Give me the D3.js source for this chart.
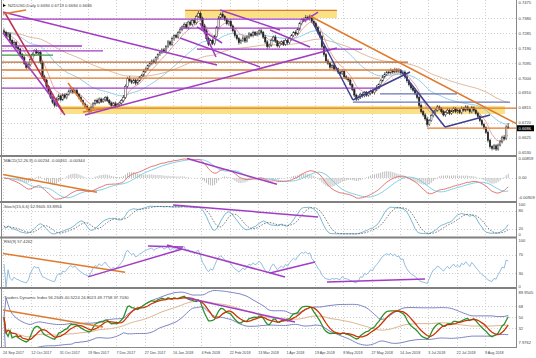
<!DOCTYPE html>
<html><head><meta charset="utf-8">
<script src="https://cdn.jsdelivr.net/npm/d3@7"></script>
<style>
html,body{margin:0;padding:0;background:#fff;}
svg{display:block;font-family:"Liberation Sans",Arial,sans-serif;}
</style></head><body>
<svg id="c" width="536" height="358"></svg>
<script>
// ---------------- DATA ----------------
const chartTitle = "NZDUSD,Daily 0.6694 0.6719 0.6684 0.6686";
const firstOpen = 0.7300;
const closes = [
.7290,.7265,.7280,.7240,.7215,.7225,.7195,.7185,.7150,.7130,
.7095,.7070,.7085,.7120,.7150,.7175,.7160,.7165,.7100,.7010,
.6990,.6950,.6920,.6880,.6850,.6830,.6870,.6890,.6865,.6895,
.6880,.6900,.6920,.6935,.6915,.6925,.6900,.6880,.6860,.6840,
.6825,.6810,.6795,.6815,.6840,.6860,.6850,.6870,.6855,.6865,
.6880,.6860,.6845,.6830,.6840,.6825,.6835,.6845,.6860,.6880,
.6950,.7000,.6985,.6975,.6990,.6970,.6985,.7005,.7020,.7045,
.7060,.7080,.7095,.7110,.7100,.7130,.7150,.7165,.7180,.7170,
.7200,.7230,.7215,.7250,.7270,.7260,.7290,.7310,.7325,.7340,
.7320,.7355,.7340,.7365,.7350,.7390,.7410,.7380,.7330,.7300,
.7250,.7215,.7240,.7220,.7265,.7320,.7380,.7405,.7390,.7370,
.7345,.7360,.7330,.7300,.7270,.7250,.7225,.7240,.7255,.7235,
.7260,.7280,.7270,.7290,.7275,.7285,.7300,.7290,.7260,.7230,
.7200,.7210,.7240,.7260,.7235,.7205,.7220,.7230,.7215,.7240,
.7225,.7250,.7270,.7290,.7280,.7310,.7345,.7370,.7365,.7385,
.7375,.7390,.7360,.7345,.7320,.7290,.7265,.7200,.7150,.7110,
.7095,.7070,.7080,.7055,.7060,.7040,.7030,.7045,.7010,.7000,
.6990,.6960,.6930,.6895,.6870,.6880,.6900,.6890,.6910,.6895,
.6905,.6920,.6910,.6930,.6945,.6960,.6985,.7010,.7025,.7040,
.7035,.7050,.7040,.7055,.7045,.7050,.7035,.7040,.7010,.6985,
.6960,.6940,.6925,.6905,.6880,.6830,.6790,.6770,.6745,.6710,
.6735,.6765,.6790,.6800,.6820,.6810,.6790,.6770,.6785,.6800,
.6780,.6795,.6810,.6790,.6800,.6785,.6810,.6800,.6820,.6805,
.6790,.6815,.6800,.6780,.6760,.6735,.6710,.6690,.6660,.6610,
.6570,.6560,.6575,.6555,.6580,.6600,.6630,.6620,.6694,.6686];
// upper / lower wick lengths in pips
const wickUp = [
15,10,12,8,10,14,9,12,8,10, 12,9,15,10,14,8,12,10,9,11,
13,8,10,12,9,15,11,14,8,10, 12,9,11,13,8,10,14,9,12,8,
10,12,9,15,11,8,13,10,9,12, 8,11,10,9,12,14,8,10,11,15,
12,10,14,9,11,8,12,10,9,13, 10,8,12,9,14,10,8,11,9,12,
10,12,9,14,8,11,10,13,9,12, 14,9,12,10,15,11,16,12,9,13,
11,14,10,12,9,11,13,10,15,9, 12,10,14,9,11,8,12,10,13,9,
10,12,8,11,9,13,10,12,9,14, 11,9,12,10,14,8,11,9,12,10,
9,12,10,8,13,10,11,9,12,14, 10,12,9,14,11,8,12,10,9,11,
13,9,11,10,12,8,10,12,9,11, 10,12,9,11,8,13,10,12,9,11,
12,9,11,10,13,8,10,12,14,9, 11,13,9,12,10,14,9,11,10,12,
9,11,10,12,8,10,12,9,11,14, 10,12,9,11,13,10,8,12,9,11,
12,9,11,10,12,9,13,10,11,9, 10,12,9,11,10,12,9,11,8,12,
10,9,12,11,10,13,9,14,11,25];
const wickDown = [
10,12,9,14,11,8,12,10,13,9, 11,14,10,9,12,10,8,13,11,12,
9,12,14,10,11,13,9,12,10,8, 10,12,9,11,13,8,10,12,9,11,
12,10,14,9,11,10,8,12,10,9, 11,9,12,10,8,13,10,9,12,11,
9,12,10,11,9,13,10,8,12,10, 11,9,10,12,8,10,12,9,11,10,
12,9,11,10,13,8,10,9,12,11, 10,13,9,11,12,10,9,14,12,15,
13,11,14,10,12,9,11,10,12,9, 10,12,9,11,13,10,12,9,11,12,
9,11,10,12,8,10,12,9,11,13, 14,10,11,9,12,10,13,9,11,10,
12,9,11,10,12,9,10,11,9,12, 10,11,12,9,10,13,11,12,14,10,
11,12,9,10,11,12,10,9,13,10, 12,10,11,13,14,9,10,12,9,11,
10,11,9,12,10,9,11,10,12,9, 11,10,12,9,11,10,12,9,11,13,
10,12,9,11,12,14,10,12,11,15, 10,9,11,12,10,9,11,10,12,9,
11,10,12,9,11,10,12,9,11,10, 12,10,11,9,12,10,11,12,10,13,
12,14,10,12,11,9,10,12,9,2];

const dateTickBars = [0,14,28,42,56,70,84,98,112,126,140,154,168,182,196,210,224,238];
const dateTickLabels = ["24 Sep 2017","12 Oct 2017","31 Oct 2017","19 Nov 2017","7 Dec 2017","27 Dec 2017",
 "16 Jan 2018","4 Feb 2018","22 Feb 2018","13 Mar 2018","1 Apr 2018","19 Apr 2018","8 May 2018",
 "27 May 2018","14 Jun 2018","3 Jul 2018","22 Jul 2018","9 Aug 2018"];

const priceTicks = [0.7475,0.7380,0.7285,0.7190,0.7095,0.7000,0.6910,0.6815,0.6720,0.6625,0.6530];
const lastPrice = 0.6686;
const macdTicks = [0.00859,0.00,-0.00909];
const macdTickLabels = ["0.00859","0.00","-0.00909"];
const stochTicks = [100,80,20,0];
const rsiTicks = [100,70,30,0];
const tdiTicks = [89.9505,68,50,32,7.9762];
const tdiTickLabels = ["89.9505","68","50","32","7.9762"];

const macdTitle = "MACD(12,26,9) 0.00234 -0.00461 -0.00344";
const stochTitle = "Stoch(15,6,6) 52.9605 33.8956";
const rsiTitle = "RSI(9) 57.4262";
const tdiTitle = "Traders Dynamic Index 56.2645 40.5224 24.8023 49.7758 37.7030";

// manual objects: [price, fromBar, toBar, kind]
const hLines = [
 [0.7374,-1,151,"purple"],[0.7317,87,146,"purple"],[0.7204,-1,38.5,"purple"],
 [0.7173,-1,48.9,"purple"],[0.7147,-1,24.2,"green"],[0.7185,95.3,176.8,"purple"],
 [0.7103,-1,199.5,"brown"],[0.7053,-1,195.6,"orange"],[0.7002,-1,185.7,"orange"],
 [0.6939,-1,185.7,"purple"],[0.6902,185.7,223.7,"slate"],[0.6851,172.3,249.9,"slate"],
 [0.6813,27.7,256,"orange"],[0.7428,89.4,164.4,"orange"],[0.6687,208.9,256,"orange"]];
// zones: [lowPrice, highPrice, fromBar, toBar]
const zones = [[0.6776,0.6827,27.7,247.4],[0.7380,0.7431,89.4,164.4]];
// trend lines: [bar1, value1, bar2, value2, kind]
const mainTrends = [
 [-0.5,0.7418,105.2,0.7084,"purple"],[-0.5,0.7286,30.1,0.6769,"purple"],
 [0.5,0.7412,29.1,0.6788,"crimson"],[-0.5,0.7406,10.9,0.7431,"orange"],
 [31.6,0.6971,41.5,0.6801,"orange"],[39,0.6788,57.3,0.6826,"orange"],
 [40,0.6769,164.4,0.7191,"purple"],[86.9,0.7254,126.4,0.7072,"purple"],
 [95.3,0.7324,107.7,0.7223,"purple"],[96.8,0.7349,104.7,0.7135,"purple"],
 [106.7,0.7431,136.3,0.7305,"purple"],[131.4,0.7305,151.1,0.7198,"purple"],
 [147.2,0.7355,155.1,0.7418,"purple"],[152.6,0.7349,172.3,0.6864,"navy"],
 [172.3,0.6864,200.5,0.7040,"navy"],[195.6,0.7053,217.8,0.6694,"navy"],
 [217.8,0.6694,240,0.6769,"navy"],[151.1,0.7393,253.3,0.6713,"orange"]];
const macdTrends = [[-0.5,0.00152,45.9,-0.00644,"orange"],[90.4,0.00880,134.8,-0.0029,"purple"]];
const stochTrends = [[83.5,100,155.1,60,"purple"]];
const rsiTrends = [[-0.5,72.8,59.8,32,"orange"],[41.5,22,88,82.6,"purple"],[71.1,89,88.4,87,"purple"],
 [80.5,91.3,138.8,21.7,"purple"],[131.4,30.4,153.6,54.3,"purple"],[159.5,10.9,207.9,17.4,"purple"]];
const tdiTrends = [[-0.5,62.1,48.9,34.2,"orange"],[90.4,81.7,143.7,42.4,"purple"]];

// ---------------- STYLE ----------------
const kindColor = {purple:"#a23cc4",orange:"#e07a2e",brown:"#b86a34",green:"#3c9a3c",slate:"#6d78bd",navy:"#3d3f8f",crimson:"#c0304f"};
const svg = d3.select("#c");
const N = closes.length;
const x = d3.scaleLinear().domain([0,N-1]).range([4,4+(N-1)*2.025]);
const PL = 2, PR = 516;
const panels = {main:[0,156],macd:[157,202],stoch:[203,237],rsi:[238,288],tdi:[289,347]};
const yMain = d3.scaleLinear().domain(d3.extent(priceTicks)).range([153,3]);
const yMacd = d3.scaleLinear().domain(d3.extent(macdTicks)).range([198,159]);
const ySto = d3.scaleLinear().domain(d3.extent(stochTicks)).range([235,205]);
const yRsi = d3.scaleLinear().domain(d3.extent(rsiTicks)).range([287,241]);
const yTdi = d3.scaleLinear().domain(d3.extent(tdiTicks)).range([343,293]);

// ---------------- DERIVED ----------------
const opens = closes.map((c,i)=> i===0 ? firstOpen : closes[i-1]);
const highs = closes.map((c,i)=> Math.max(opens[i],c) + wickUp[i]/1e4);
const lows  = closes.map((c,i)=> Math.min(opens[i],c) - wickDown[i]/1e4);
function ema(a,n){const k=2/(n+1);let p=a[0];return a.map((v,i)=>(p= i===0?v:v*k+p*(1-k)));}
function sma(a,n){return a.map((v,i)=>d3.mean(a.slice(Math.max(0,i-n+1),i+1)));}
function sd(a,n){return a.map((v,i)=>d3.deviation(a.slice(Math.max(0,i-n+1),i+1))||0);}
function rsi(a,n){let ag=0,al=0;return a.map((v,i)=>{if(i===0)return 50;const d=v-a[i-1];
  const g=Math.max(d,0),l=Math.max(-d,0); if(i<=n){ag=(ag*(i-1)+g)/i;al=(al*(i-1)+l)/i;} else {ag=(ag*(n-1)+g)/n;al=(al*(n-1)+l)/n;}
  return al===0?100:100-100/(1+ag/al);});}
const maFast = ema(closes,8), maMid = ema(closes,34), maSlow = ema(closes,89);
const e12=ema(closes,12), e26=ema(closes,26);
const macdLine = e12.map((v,i)=>v-e26[i]);
const macdSig = sma(macdLine,9);
const macdHist = macdLine.map((v,i)=>v-macdSig[i]);
const num = closes.map((c,i)=>{const lo=d3.min(lows.slice(Math.max(0,i-14),i+1));return c-lo;});
const den = closes.map((c,i)=>{const lo=d3.min(lows.slice(Math.max(0,i-14),i+1)),hi=d3.max(highs.slice(Math.max(0,i-14),i+1));return hi-lo;});
const stK = num.map((v,i)=>{const a=d3.sum(num.slice(Math.max(0,i-5),i+1)),b=d3.sum(den.slice(Math.max(0,i-5),i+1));return b?100*a/b:50;});
const stD = sma(stK,6);
const rsi9 = rsi(closes,9);
const r13 = rsi(closes,13);
const tdiGreen = sma(r13,2), tdiRed = sma(r13,7), tdiBase = sma(r13,34), tdiSd = sd(r13,34);
const tdiUp = tdiBase.map((v,i)=>v+1.6185*tdiSd[i]), tdiDn = tdiBase.map((v,i)=>v-1.6185*tdiSd[i]);

// ---------------- DRAW ----------------
const defs = svg.append("defs");
Object.entries(panels).forEach(([k,[t,b]])=>{
  defs.append("clipPath").attr("id","clip-"+k).append("rect").attr("x",PL).attr("y",t).attr("width",PR-PL).attr("height",b-t);
});
function layer(k){return svg.append("g").attr("clip-path","url(#clip-"+k+")");}

// vertical grid
const gGrid = svg.append("g");
dateTickBars.forEach(b=>{
  gGrid.append("line").attr("x1",Math.round(x(b))-0.5).attr("x2",Math.round(x(b))-0.5).attr("y1",0).attr("y2",347)
   .attr("stroke","#c4c4c4").attr("stroke-width",0.8).attr("stroke-dasharray","1,2");
});
function hgrid(vals,sc){vals.forEach(v=>{gGrid.append("line").attr("x1",PL).attr("x2",PR).attr("y1",Math.round(sc(v))+0.5).attr("y2",Math.round(sc(v))+0.5)
  .attr("stroke","#c4c4c4").attr("stroke-width",0.8).attr("stroke-dasharray","1,2");});}
hgrid(priceTicks.slice(1,-1),yMain);
hgrid([0],yMacd); hgrid([80,20],ySto); hgrid([70,30],yRsi); hgrid([68,50,32],yTdi);

// main panel
const gm = layer("main");
zones.forEach(z=>{
  gm.append("rect").attr("x",x(z[2])).attr("width",x(z[3])-x(z[2])).attr("y",yMain(z[1])).attr("height",yMain(z[0])-yMain(z[1]))
   .attr("fill","#f7dc72").attr("opacity",0.85);
});
const lineMain = d3.line().x((d,i)=>x(i)).y(d=>yMain(d));
[[maSlow,"#ddb08e"],[maMid,"#86c9e6"],[maFast,"#e59a9a"]].forEach(([a,c])=>{
  gm.append("path").attr("d",lineMain(a)).attr("fill","none").attr("stroke",c).attr("stroke-width",0.9);
});
closes.forEach((c,i)=>{
  const o=opens[i], cx=x(i);
  gm.append("line").attr("x1",cx).attr("x2",cx).attr("y1",yMain(highs[i])).attr("y2",yMain(lows[i])).attr("stroke","#222").attr("stroke-width",0.7);
  const top=yMain(Math.max(o,c)), bot=yMain(Math.min(o,c));
  gm.append("rect").attr("x",cx-0.75).attr("width",1.5).attr("y",top).attr("height",Math.max(0.6,bot-top))
   .attr("fill", c>=o ? "#fff" : "#222").attr("stroke","#222").attr("stroke-width",0.45);
});
function drawH(g,arr,sc,w){arr.forEach(h=>{g.append("line").attr("x1",x(h[1])).attr("x2",x(h[2])).attr("y1",sc(h[0])).attr("y2",sc(h[0]))
  .attr("stroke",kindColor[h[3]]).attr("stroke-width",w);});}
function drawT(g,arr,sc,w){arr.forEach(t=>{g.append("line").attr("x1",x(t[0])).attr("y1",sc(t[1])).attr("x2",x(t[2])).attr("y2",sc(t[3]))
  .attr("stroke",kindColor[t[4]]).attr("stroke-width",w);});}
drawH(gm,hLines,yMain,1.3);
drawT(gm,mainTrends,yMain,1.5);

// MACD
const gmc = layer("macd");
macdHist.forEach((h,i)=>{gmc.append("rect").attr("x",x(i)-0.5).attr("width",1).attr("y",Math.min(yMacd(0),yMacd(h)))
  .attr("height",Math.abs(yMacd(h)-yMacd(0))).attr("fill","#bdbdbd");});
const lMacd = d3.line().x((d,i)=>x(i)).y(d=>yMacd(d));
gmc.append("path").attr("d",lMacd(macdSig)).attr("fill","none").attr("stroke","#7fd0e4").attr("stroke-width",1);
gmc.append("path").attr("d",lMacd(macdLine)).attr("fill","none").attr("stroke","#e27878").attr("stroke-width",1);
drawT(gmc,macdTrends,yMacd,1.5);

// Stoch
const gs = layer("stoch");
const lSto = d3.line().x((d,i)=>x(i)).y(d=>ySto(d));
gs.append("path").attr("d",lSto(stK)).attr("fill","none").attr("stroke","#6aaecb").attr("stroke-width",0.9);
gs.append("path").attr("d",lSto(stD)).attr("fill","none").attr("stroke","#555").attr("stroke-width",0.8).attr("stroke-dasharray","1.5,1.5");
drawT(gs,stochTrends,ySto,1.5);

// RSI
const gr = layer("rsi");
const lRsi = d3.line().x((d,i)=>x(i)).y(d=>yRsi(d));
gr.append("path").attr("d",lRsi(rsi9)).attr("fill","none").attr("stroke","#86b5dc").attr("stroke-width",0.9);
drawT(gr,rsiTrends,yRsi,1.5);

// TDI
const gt = layer("tdi");
const lTdi = d3.line().x((d,i)=>x(i)).y(d=>yTdi(d));
[[tdiUp,"#7a84c4",1],[tdiDn,"#7a84c4",1],[tdiBase,"#dcb48e",1],[tdiGreen,"#2f8f2f",1.3],[tdiRed,"#cc3300",1.3]].forEach(([a,c,w])=>{
  gt.append("path").attr("d",lTdi(a)).attr("fill","none").attr("stroke",c).attr("stroke-width",w);
});
drawT(gt,tdiTrends,yTdi,1.5);

// frames / separators
const gf = svg.append("g");
[156,202,237.5,288].forEach(y=>gf.append("line").attr("x1",0).attr("x2",PR+1).attr("y1",y).attr("y2",y).attr("stroke","#808080").attr("stroke-width",2));
gf.append("line").attr("x1",PL-0.5).attr("x2",PL-0.5).attr("y1",0).attr("y2",347).attr("stroke","#888");
gf.append("line").attr("x1",PR+0.5).attr("x2",PR+0.5).attr("y1",0).attr("y2",347).attr("stroke","#888");
gf.append("line").attr("x1",0).attr("x2",PR+1).attr("y1",347.5).attr("y2",347.5).attr("stroke","#888");

// axis labels
const gt2 = svg.append("g").attr("font-size",4.1).attr("fill","#444");
function rLabels(vals,labels,sc){vals.forEach((v,i)=>gt2.append("text").attr("x",518.5).attr("y",sc(v)).attr("dy","0.35em").text(labels[i]));}
rLabels(priceTicks,priceTicks.map(d=>d.toFixed(4)),yMain);
rLabels(macdTicks,macdTickLabels,yMacd);
rLabels(stochTicks,stochTicks.map(String),ySto);
rLabels(rsiTicks,rsiTicks.map(String),yRsi);
rLabels(tdiTicks,tdiTickLabels,yTdi);
// last price box
svg.append("rect").attr("x",PR+1).attr("y",yMain(lastPrice)-3).attr("width",17).attr("height",6).attr("fill","#000");
svg.append("text").attr("x",518.5).attr("y",yMain(lastPrice)).attr("dy","0.35em").attr("font-size",4.1).attr("fill","#fff").text(lastPrice.toFixed(4));
// date labels
const gd = svg.append("g").attr("font-size",3.7).attr("fill","#444");
dateTickBars.forEach((b,i)=>gd.append("text").attr("x",x(b)-1).attr("y",353.5).text(dateTickLabels[i]));
// titles
svg.append("path").attr("d","M3,4 L6,5.5 L3,7 Z").attr("fill","#000");
const tt = svg.append("g").attr("font-size",4.2).attr("fill","#444");
tt.append("text").attr("x",8).attr("y",7).text(chartTitle);
tt.append("text").attr("x",4).attr("y",162).text(macdTitle);
tt.append("text").attr("x",4).attr("y",208).text(stochTitle);
tt.append("text").attr("x",4).attr("y",243).text(rsiTitle);
tt.append("text").attr("x",4).attr("y",299).text(tdiTitle);
</script></body></html>
